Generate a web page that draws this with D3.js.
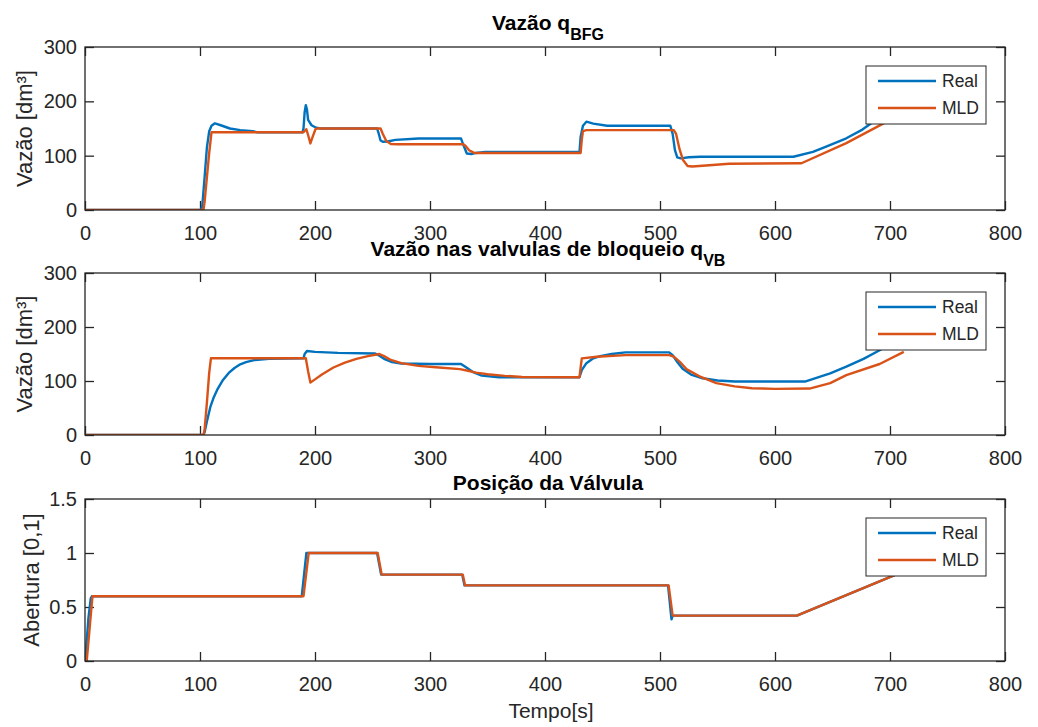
<!DOCTYPE html>
<html>
<head>
<meta charset="utf-8">
<script src="https://cdn.jsdelivr.net/npm/d3@7"></script>
<style>
  body { margin: 0; background: #fff; }
  svg { display: block; font-family: "Liberation Sans", Arial, Helvetica, sans-serif; }
</style>
</head>
<body>
<div id="chart"></div>
<script>
//----------------------------------
// Data (time [s], value)
//----------------------------------
const timeTicks = [0, 100, 200, 300, 400, 500, 600, 700, 800];
const flowTicks = [0, 100, 200, 300];
const valveTicks = [0, 0.5, 1, 1.5];
const seriesNames = ["Real", "MLD"];
const seriesColors = ["#0072BD", "#D95319"];

// Vazão q_BFG
const qbfgReal = [[0,0],[101,0],[102,8],[104,60],[106,115],[108,145],[110,155],[113,159.5],[118,156],[126,150],[135,147],[146,145],[150,143],[189,143],[190,150],[191,180],[192,193],[193,185],[194,166],[197,156],[201,151.5],[205,150],[254,150],[255.5,140],[257,128],[259,125.5],[263,126],[270,129],[290,131.5],[327,131.5],[329,120],[332,104],[336,103],[340,105],[348,107],[430,107],[431,135],[433,155],[436,162.5],[442,159],[454,155],[509,155],[511,140],[513,110],[515,97],[518,95],[525,97],[535,98],[616,98],[633,107],[645,117],[662,132],[676,148],[688,166],[700,184]];
const qbfgMld = [[0,0],[103,0],[104,15],[106,60],[108,105],[110,143],[190,143],[191.5,147],[192.5,148.5],[194,138],[196,122.5],[198,135],[200.5,149],[202,150],[257,150],[259,140],[262,127],[266,121.5],[272,121],[329,121],[331,118],[334,110],[338,105.5],[340,105],[431,105],[432,130],[433,145],[436,147],[512,147],[514,140],[517,112],[520,92],[524,81],[528,80],[540,82],[560,85],[623,86],[662,123],[694,159],[700,166]];

// Vazão nas valvulas de bloqueio q_VB
const qvbReal = [[0,0],[103,0],[104,5],[106,25],[109,52],[112,70],[115,84],[120,102],[125,115],[130,124],[135,131],[140,135],[148,139],[160,141],[190,142],[191,150],[193,155.6],[200,154],[220,152],[252,151],[255,148],[260,141],[267,135],[275,132.5],[300,131.5],[327,131.5],[331,126],[337,117],[345,110],[360,107],[430,107],[432,120],[436,133],[442,142],[448,146],[458,150],[470,153],[508,153],[511,148],[515,135],[520,122],[527,112],[537,105],[550,101],[565,99],[626,99],[648,114],[662,126.5],[677,141],[691,157],[700,168]];
const qvbMld = [[0,0],[103,0],[104,10],[106,60],[108,115],[109.5,142],[192,142],[194,118],[196,97],[200,103],[206,112],[216,125],[226,134],[236,141],[246,146],[256,150],[260,146],[266,139],[275,133],[290,128],[305,125.4],[326,122],[333,119],[340,115.5],[350,112.5],[365,109.5],[380,107.5],[430,107],[431,125],[432,142],[445,145],[470,148],[508,148],[512,145],[517,136],[523,122],[535,108],[549,96],[565,90],[580,86.5],[600,85.5],[630,86],[648,96],[662,111],[691,131.5],[712,154]];

// Posição da Válvula
const valveReal = [[0,0],[1,0.12],[3,0.4],[5,0.58],[6,0.6],[188.5,0.6],[192.5,1],[254,1],[257.5,0.8],[328,0.8],[330,0.7],[507,0.7],[510,0.386],[511,0.42],[619,0.42],[704,0.796]];
const valveMld = [[0,0],[1.5,0],[6.5,0.6],[190,0.6],[194.5,1],[254.5,1],[258,0.8],[328.5,0.8],[330.5,0.7],[507.5,0.7],[511,0.42],[619,0.42],[704,0.796]];

//----------------------------------
// SVG Section
//----------------------------------
const width = 1038, height = 727;
const plotLeft = 85, plotRight = 1005;
const axisColor = "#262626";

const svg = d3.select("#chart")
    .append("svg")
    .attr("width", width)
    .attr("height", height);

const xScale = d3.scaleLinear().domain([0, 800]).range([plotLeft, plotRight]);

const panels = [
    {top: 47, bottom: 210, domain: [0, 300], ticks: flowTicks, series: [qbfgReal, qbfgMld],
     title: "Vazão q", sub: "BFG", titleY: 30, ylabel: "Vazão [dm³]", ylabelX: 32},
    {top: 273, bottom: 435, domain: [0, 300], ticks: flowTicks, series: [qvbReal, qvbMld],
     title: "Vazão nas valvulas de bloqueio q", sub: "VB", titleY: 256, ylabel: "Vazão [dm³]", ylabelX: 32},
    {top: 499, bottom: 661, domain: [0, 1.5], ticks: valveTicks, series: [valveReal, valveMld],
     title: "Posição da Válvula", sub: null, titleY: 490, ylabel: "Abertura [0,1]", ylabelX: 39}
];

const line = (yScale) => d3.line()
    .x(d => xScale(d[0]))
    .y(d => yScale(d[1]));

panels.forEach((p, i) => {
    const yScale = d3.scaleLinear().domain(p.domain).range([p.bottom, p.top]);
    const g = svg.append("g");

    // clip lines to the axes box
    svg.append("defs").append("clipPath")
        .attr("id", "clip" + i)
        .append("rect")
        .attr("x", plotLeft).attr("y", p.top)
        .attr("width", plotRight - plotLeft).attr("height", p.bottom - p.top);

    // Bottom axis with labels, ticks pointing inward
    const xAxis = g.append("g")
        .attr("transform", `translate(0,${p.bottom})`)
        .call(d3.axisBottom(xScale).tickValues(timeTicks).tickSizeInner(-9).tickSizeOuter(0).tickPadding(16));
    // Top axis, ticks only
    const xTop = g.append("g")
        .attr("transform", `translate(0,${p.top})`)
        .call(d3.axisTop(xScale).tickValues(timeTicks).tickSizeInner(-9).tickSizeOuter(0).tickFormat(""));
    // Left axis with labels
    const yAxis = g.append("g")
        .attr("transform", `translate(${plotLeft},0)`)
        .call(d3.axisLeft(yScale).tickValues(p.ticks).tickSizeInner(-9).tickSizeOuter(0).tickPadding(8)
            .tickFormat(d => String(d)));
    // Right axis, ticks only
    const yRight = g.append("g")
        .attr("transform", `translate(${plotRight},0)`)
        .call(d3.axisRight(yScale).tickValues(p.ticks).tickSizeInner(-9).tickSizeOuter(0).tickFormat(""));

    [xAxis, xTop, yAxis, yRight].forEach(a => {
        a.select(".domain").remove();
        a.selectAll(".tick line").attr("stroke", axisColor).attr("stroke-width", 1.3);
        a.selectAll(".tick text")
            .attr("fill", axisColor)
            .style("font-size", "20px")
            .style("font-family", "'Liberation Sans', Arial, sans-serif");
    });

    // Series lines
    p.series.forEach((data, k) => {
        g.append("path")
            .datum(data)
            .attr("fill", "none")
            .attr("stroke", seriesColors[k])
            .attr("stroke-width", 2.4)
            .attr("stroke-linejoin", "round")
            .attr("clip-path", `url(#clip${i})`)
            .attr("d", line(yScale));
    });

    // Axes box
    g.append("rect")
        .attr("x", plotLeft).attr("y", p.top)
        .attr("width", plotRight - plotLeft).attr("height", p.bottom - p.top)
        .attr("fill", "none")
        .attr("stroke", axisColor)
        .attr("stroke-width", 1.3);

    // Title
    const title = g.append("text")
        .attr("x", (plotLeft + plotRight) / 2 + 3)
        .attr("y", p.titleY)
        .attr("text-anchor", "middle")
        .style("font-size", "21px")
        .style("font-weight", "bold")
        .attr("fill", "#000");
    title.append("tspan").text(p.title);
    if (p.sub) {
        title.append("tspan").attr("dy", 10).style("font-size", "16px").text(p.sub);
    }

    // Y label
    g.append("text")
        .attr("transform", `translate(${p.ylabelX},${(p.top + p.bottom) / 2}) rotate(-90)`)
        .attr("text-anchor", "middle")
        .attr("fill", axisColor)
        .style("font-size", "22px")
        .text(p.ylabel);

    // Legend
    const lx = plotRight - 19 - 120, ly = p.top + 19;
    const legend = g.append("g").attr("transform", `translate(${lx},${ly})`);
    legend.append("rect")
        .attr("width", 120).attr("height", 58)
        .attr("fill", "#fff")
        .attr("stroke", axisColor)
        .attr("stroke-width", 1);
    seriesNames.forEach((name, k) => {
        const ry = 15 + k * 27;
        legend.append("line")
            .attr("x1", 12).attr("x2", 70)
            .attr("y1", ry).attr("y2", ry)
            .attr("stroke", seriesColors[k])
            .attr("stroke-width", 2.4);
        legend.append("text")
            .attr("x", 76).attr("y", ry)
            .attr("dy", "0.35em")
            .attr("fill", axisColor)
            .style("font-size", "17.5px")
            .text(name);
    });
});

// X label under the last panel
svg.append("text")
    .attr("x", 551)
    .attr("y", 718)
    .attr("text-anchor", "middle")
    .attr("fill", axisColor)
    .style("font-size", "21px")
    .text("Tempo[s]");
</script>
</body>
</html>
